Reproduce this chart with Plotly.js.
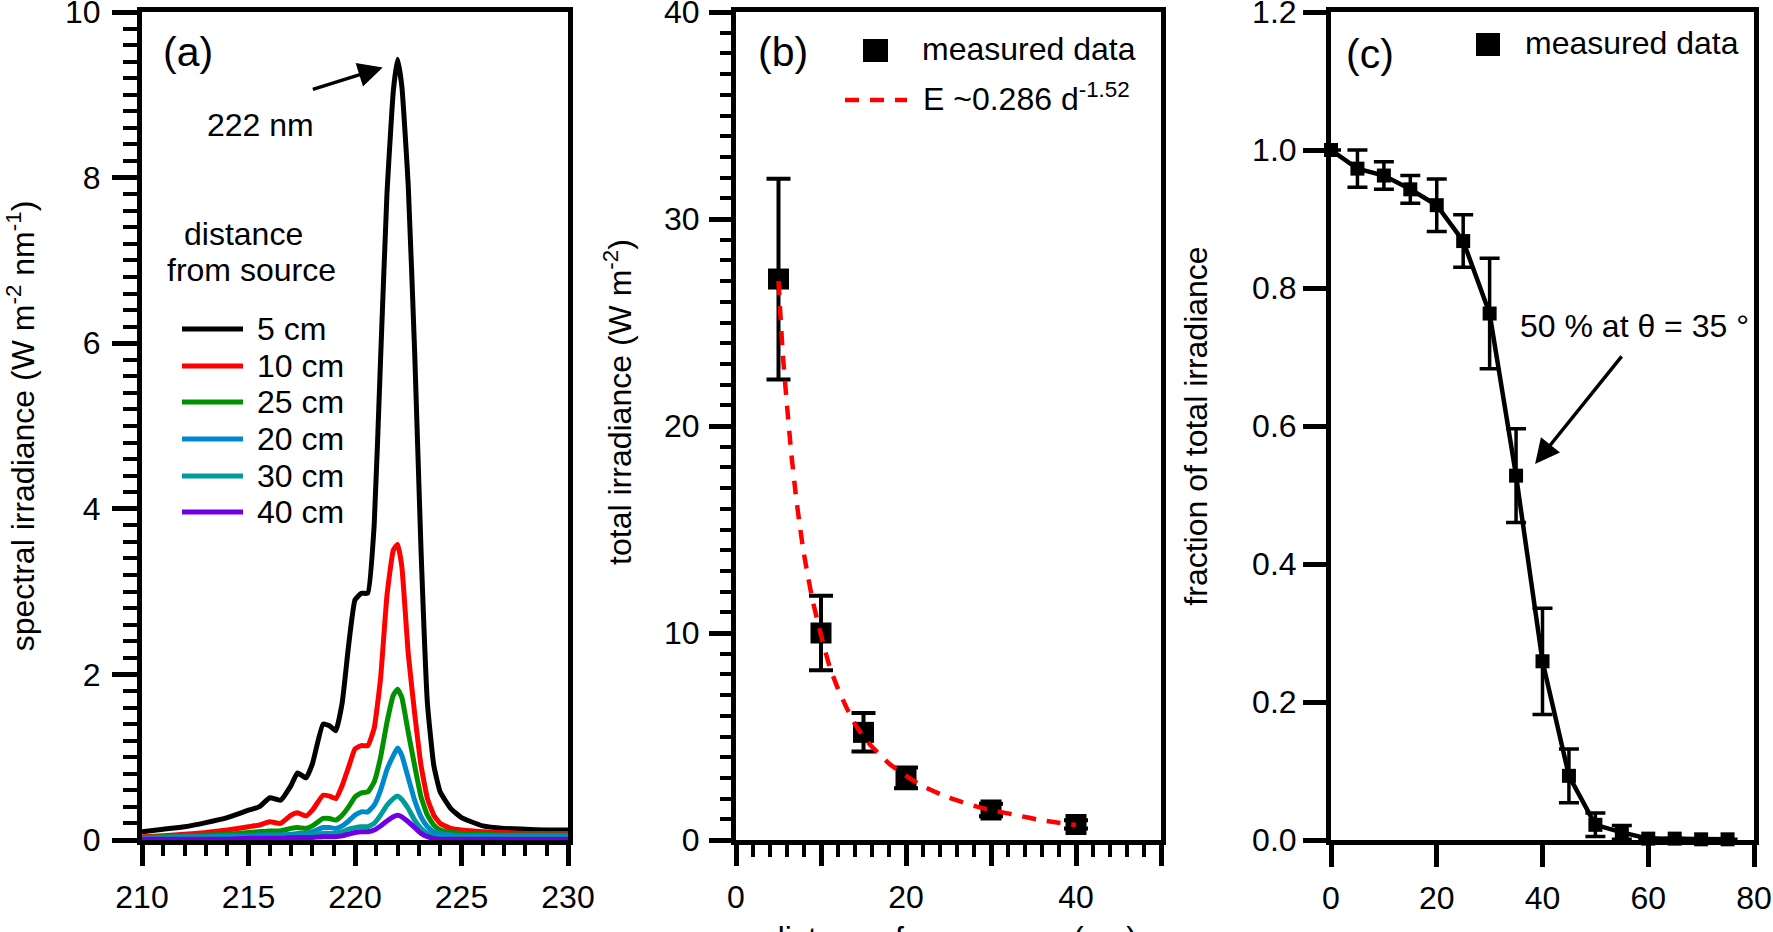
<!DOCTYPE html>
<html><head><meta charset="utf-8">
<script src="https://cdn.plot.ly/plotly-3.0.1.min.js"></script>
<style>html,body{margin:0;padding:0;background:#fff;} #chart{width:1773px;height:932px;}</style>
</head><body><div id="chart"></div>
<script>
// ---------- panel (a): spectra ----------
const wavelength = [210,211,212,213,214,215,215.5,216,216.5,217,217.3,217.7,218,218.5,218.8,219.1,219.4,219.7,220,220.3,220.6,220.9,221.2,221.5,221.8,222,222.2,222.5,222.8,223.1,223.4,223.7,224,224.5,225,226,227,228,229,230];
const irr5cm  = [0.10,0.13,0.16,0.21,0.27,0.36,0.40,0.51,0.48,0.66,0.81,0.75,0.92,1.40,1.38,1.32,1.66,2.35,2.90,2.98,2.98,3.80,5.80,7.80,9.05,9.43,9.10,7.90,5.90,3.50,1.65,0.90,0.58,0.38,0.27,0.17,0.14,0.13,0.12,0.12];
const irr10cm = [0.04,0.05,0.07,0.09,0.12,0.16,0.18,0.22,0.20,0.30,0.33,0.29,0.36,0.54,0.53,0.50,0.66,0.88,1.10,1.14,1.14,1.35,1.95,2.95,3.50,3.57,3.30,2.25,1.53,0.90,0.50,0.30,0.20,0.14,0.12,0.10,0.09,0.08,0.08,0.08];
const irr25cm = [0.03,0.04,0.05,0.06,0.07,0.09,0.10,0.11,0.11,0.14,0.15,0.14,0.17,0.26,0.26,0.24,0.30,0.40,0.52,0.57,0.58,0.70,1.00,1.42,1.75,1.82,1.72,1.30,0.90,0.52,0.30,0.18,0.12,0.09,0.08,0.07,0.06,0.06,0.06,0.06];
const irr20cm = [0.02,0.03,0.04,0.04,0.05,0.05,0.06,0.06,0.06,0.07,0.08,0.08,0.10,0.15,0.15,0.14,0.17,0.23,0.30,0.34,0.34,0.42,0.60,0.85,1.02,1.11,1.02,0.75,0.48,0.28,0.16,0.10,0.08,0.06,0.05,0.05,0.05,0.05,0.05,0.05];
const irr30cm = [0.02,0.02,0.02,0.03,0.03,0.03,0.03,0.04,0.04,0.04,0.05,0.05,0.06,0.08,0.08,0.08,0.10,0.13,0.15,0.16,0.16,0.20,0.30,0.42,0.50,0.53,0.49,0.38,0.24,0.14,0.08,0.05,0.04,0.03,0.03,0.03,0.03,0.03,0.03,0.03];
const irr40cm = [0.01,0.01,0.01,0.01,0.01,0.02,0.02,0.02,0.02,0.03,0.03,0.03,0.03,0.04,0.04,0.04,0.05,0.07,0.09,0.10,0.10,0.12,0.17,0.23,0.28,0.30,0.28,0.22,0.15,0.08,0.04,0.02,0.01,0.01,0.01,0.01,0.01,0.01,0.01,0.01];
const seriesLabels = ['5 cm','10 cm','25 cm','20 cm','30 cm','40 cm'];
const seriesColors = ['#000000','#ff0000','#009000','#0088cc','#009b9b','#6e00e6'];
const spectra = [irr5cm, irr10cm, irr25cm, irr20cm, irr30cm, irr40cm];

// ---------- panel (b): total irradiance vs distance ----------
const distance = [5,10,15,20,30,40];
const totalIrr = [27.1,10.0,5.2,3.0,1.45,0.75];
const totalIrrErr = [4.85,1.8,0.93,0.5,0.3,0.2];
const fitDistance = [5,5.5,6,6.5,7,7.5,8,9,10,11,12,13,14,15,16,18,20,22,25,28,30,33,36,40];
const fitIrr = [27.0,23.5,21.0,18.7,16.8,15.2,13.8,11.6,9.9,8.4,7.3,6.4,5.6,5.0,4.5,3.7,3.1,2.6,2.05,1.65,1.45,1.2,0.95,0.72];

// ---------- panel (c): fraction vs angle ----------
const angle = [0,5,10,15,20,25,30,35,40,45,50,55,60,65,70,75];
const fraction = [1.0,0.973,0.963,0.943,0.92,0.868,0.763,0.528,0.259,0.093,0.022,0.011,0.002,0.002,0.001,0.001];
const fractionErr = [0,0.027,0.02,0.02,0.038,0.038,0.08,0.068,0.077,0.039,0.017,0.01,0,0,0,0];

// ---------- layout helpers (pixel -> paper) ----------
const W = 1773, H = 932, PT = 12, PB = 840;
const px = v => v / W;
const py = v => (PB - v) / (PB - PT);
const FONT = 'Arial, "Liberation Sans", Helvetica, sans-serif';

const traces = [];
spectra.forEach((s, i) => {
  traces.push({x: wavelength, y: s, type: 'scatter', mode: 'lines', name: seriesLabels[i],
    line: {color: seriesColors[i], width: 5, shape: 'spline', smoothing: 0.4},
    xaxis: 'x', yaxis: 'y', showlegend: false, cliponaxis: true});
});
traces.push({x: distance, y: totalIrr, type: 'scatter', mode: 'markers', name: 'measured data',
  marker: {symbol: 'square', size: 21, color: '#000'},
  error_y: {type: 'data', array: totalIrrErr, visible: true, color: '#000', thickness: 4, width: 12},
  xaxis: 'x2', yaxis: 'y2', showlegend: false, cliponaxis: false});
traces.push({x: fitDistance, y: fitIrr, type: 'scatter', mode: 'lines', name: 'E ~0.286 d^-1.52',
  line: {color: '#ff0000', width: 4.5, dash: '14px,11px', shape: 'spline', smoothing: 0.5},
  xaxis: 'x2', yaxis: 'y2', showlegend: false});
traces.push({x: angle, y: fraction, type: 'scatter', mode: 'lines+markers', name: 'measured data',
  line: {color: '#000', width: 4.5},
  marker: {symbol: 'square', size: 14, color: '#000'},
  error_y: {type: 'data', array: fractionErr, visible: true, color: '#000', thickness: 3.5, width: 10},
  xaxis: 'x3', yaxis: 'y3', showlegend: false, cliponaxis: false});

const tickFont = {family: FONT, size: 32, color: '#000'};
const titleFont = {family: FONT, size: 32, color: '#000'};
const baseAxis = {showline: true, linewidth: 5, linecolor: '#000', mirror: true, showgrid: false,
  zeroline: false, ticks: 'outside', tickcolor: '#000', tickfont: tickFont, automargin: false,
  ticklabeloverflow: 'allow'};

const layout = {
  width: W, height: H,
  margin: {l: 0, r: 0, t: PT, b: H - PB, pad: 0},
  paper_bgcolor: '#fff', plot_bgcolor: '#fff',
  font: {family: FONT, size: 32, color: '#000'},
  showlegend: false,
  xaxis: Object.assign({}, baseAxis, {domain: [px(142), px(568)], range: [210, 230], dtick: 5, tick0: 210,
    ticklen: 21, tickwidth: 5, ticklabelstandoff: 4,
    minor: {dtick: 1, ticklen: 11, tickwidth: 4, tickcolor: '#000', ticks: 'outside', showgrid: false}}),
  yaxis: Object.assign({}, baseAxis, {domain: [0, 1], range: [0, 10], dtick: 2, tick0: 0,
    ticklen: 25, tickwidth: 5, ticklabelstandoff: 5,
    minor: {dtick: 0.2, ticklen: 14, tickwidth: 4, tickcolor: '#000', ticks: 'outside', showgrid: false},
    title: {text: 'spectral irradiance (W m<sup>-2</sup> nm<sup>-1</sup>)', font: titleFont, standoff: 22}}),
  xaxis2: Object.assign({}, baseAxis, {domain: [px(736), px(1161)], range: [0, 50], anchor: 'y2',
    tickmode: 'array', tickvals: [0,10,20,30,40,50], ticktext: ['0','','20','','40',''],
    ticklen: 21, tickwidth: 5, ticklabelstandoff: 4,
    minor: {tickmode: 'linear', tick0: 0, dtick: 2, ticklen: 12, tickwidth: 4, tickcolor: '#000', ticks: 'outside', showgrid: false}}),
  yaxis2: Object.assign({}, baseAxis, {domain: [0, 1], range: [0, 40], dtick: 10, tick0: 0, anchor: 'x2',
    ticklen: 22, tickwidth: 5, ticklabelstandoff: 3,
    minor: {dtick: 1, ticklen: 11, tickwidth: 4, tickcolor: '#000', ticks: 'outside', showgrid: false},
    title: {text: '<span style="color:rgba(0,0,0,0)">xxx</span>total irradiance (W m<sup>-2</sup>)', font: titleFont, standoff: 24}}),
  xaxis3: Object.assign({}, baseAxis, {domain: [px(1331), px(1754)], range: [0, 80], dtick: 20, tick0: 0, anchor: 'y3',
    ticklen: 22, tickwidth: 5, ticklabelstandoff: 4}),
  yaxis3: Object.assign({}, baseAxis, {domain: [0, 1], range: [0, 1.2], dtick: 0.2, tick0: 0, anchor: 'x3',
    tickformat: '.1f', ticklen: 23, tickwidth: 5, ticklabelstandoff: 0,
    title: {text: 'fraction of total irradiance', font: titleFont, standoff: 36}}),
  shapes: [],
  annotations: []
};

const ann = (text, x, y, size, extra) => Object.assign({text: text, xref: 'paper', yref: 'paper',
  x: px(x), y: py(y), xanchor: 'left', yanchor: 'middle', showarrow: false,
  font: {family: FONT, size: size || 32, color: '#000'}}, extra || {});

// panel labels
layout.annotations.push(ann('(a)', 161, 52, 41));
layout.annotations.push(ann('(b)', 756, 52, 41));
layout.annotations.push(ann('(c)', 1344, 54, 41));

// panel (b) x-axis title (mostly below the visible picture, as in the reference)
layout.annotations.push(ann('distance from source (cm)', 952, 938, 32, {xanchor: 'center'}));

// panel (a) texts
layout.annotations.push(ann('222 nm', 205, 125, 32));
layout.annotations.push(ann('distance', 182, 234, 32));
layout.annotations.push(ann('from source', 165, 270, 32));
const legY = [329, 366, 402, 439, 476, 512];
seriesLabels.forEach((lab, i) => {
  layout.shapes.push({type: 'line', xref: 'paper', yref: 'paper', x0: px(182), x1: px(243), y0: py(legY[i]), y1: py(legY[i]),
    line: {color: seriesColors[i], width: 5}});
  layout.annotations.push(ann(lab, 255, legY[i], 32));
});
// 222 nm arrow
layout.annotations.push({text: '', xref: 'x', yref: 'y', axref: 'x', ayref: 'y',
  x: 221.3, y: 9.33, ax: 217.95, ay: 9.06, showarrow: true, arrowhead: 2, arrowsize: 1.4, arrowwidth: 3.5, arrowcolor: '#000'});

// panel (b) legend
layout.shapes.push({type: 'rect', xref: 'paper', yref: 'paper', x0: px(863), x1: px(888), y0: py(62), y1: py(39),
  fillcolor: '#000', line: {width: 0}});
layout.annotations.push(ann('measured data', 920, 49, 32));
layout.shapes.push({type: 'line', xref: 'paper', yref: 'paper', x0: px(845), x1: px(907), y0: py(100), y1: py(100),
  line: {color: '#ff0000', width: 4.5, dash: '14px,11px'}});
layout.annotations.push(ann('E ~0.286 d<sup>-1.52</sup>', 921, 97, 32));

// panel (c) legend and annotation
layout.shapes.push({type: 'rect', xref: 'paper', yref: 'paper', x0: px(1476), x1: px(1500), y0: py(56), y1: py(33),
  fillcolor: '#000', line: {width: 0}});
layout.annotations.push(ann('measured data', 1523, 43, 32));
layout.annotations.push(ann('50 % at θ = 35 °', 1518, 326, 32));
layout.annotations.push({text: '', xref: 'x3', yref: 'y3', axref: 'x3', ayref: 'y3',
  x: 38.6, y: 0.545, ax: 55.2, ay: 0.703, showarrow: true, arrowhead: 2, arrowsize: 1.4, arrowwidth: 3.5, arrowcolor: '#000'});

Plotly.newPlot('chart', traces, layout, {staticPlot: true, displayModeBar: false});
</script>
</body></html>
